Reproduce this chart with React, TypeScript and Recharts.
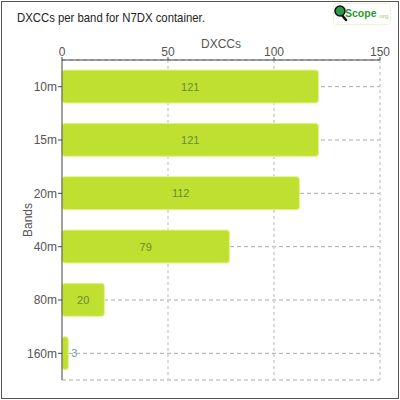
import { Bar, BarChart, CartesianGrid, LabelList, XAxis, YAxis } from "recharts";

const bands = ["10m", "15m", "20m", "40m", "80m", "160m"];
const dxccs = [121, 121, 112, 79, 20, 3];
const xTicks = [0, 50, 100, 150];

const data = bands.map((band, i) => ({ band, dxccs: dxccs[i] }));

const FONT = "'Liberation Sans', 'DejaVu Sans', sans-serif";

function BarValue(props: any) {
  const { x, y, width, height, value } = props;
  const inside = width > 20;
  return (
    <text
      x={inside ? x + width / 2 : x + width + 3}
      y={y + height / 2}
      dy={4}
      textAnchor={inside ? "middle" : "start"}
      fontSize={11}
      fontFamily={FONT}
      fill={inside ? "#6b8a35" : "#7a9aa5"}
    >
      {value}
    </text>
  );
}

function Logo() {
  return (
    <svg width={58} height={22} style={{ position: "absolute", left: 333, top: 3 }}>
      <rect x={0.5} y={0.5} width={57} height={21} rx={3} fill="#fff" stroke="#eef3d8" />
      <line x1={8} y1={11} x2={13} y2={17} stroke="#111" strokeWidth={2.5} strokeLinecap="round" />
      <circle cx={7} cy={8} r={5} fill="#2a9a4a" stroke="#111" strokeWidth={1.5} />
      <text x={12} y={14} fontSize={10.5} fontWeight="bold" fontFamily={FONT} fill="#2a9a2a">
        Scope
      </text>
      <text x={45} y={15} fontSize={6} fontFamily={FONT} fill="#9acd5a">
        .org
      </text>
    </svg>
  );
}

export default function App() {
  return (
    <div
      style={{
        position: "absolute",
        left: 0,
        top: 0,
        width: 400,
        height: 400,
        background: "#fff",
        fontFamily: FONT,
      }}
    >
      <div
        style={{
          position: "absolute",
          left: 1,
          top: 1,
          width: 396,
          height: 396,
          border: "1px solid #555",
        }}
      />
      <div
        style={{
          position: "absolute",
          left: 17,
          top: 10,
          fontSize: 13.5,
          lineHeight: "15px",
          color: "#222",
          whiteSpace: "nowrap",
          transform: "scaleX(0.84)",
          transformOrigin: "left top",
        }}
      >
        DXCCs per band for N7DX container.
      </div>
      <Logo />
      <BarChart
        width={400}
        height={400}
        data={data}
        layout="vertical"
        margin={{ top: 40, right: 20, bottom: 20, left: 20 }}
        barSize={33}
      >
        <CartesianGrid
          horizontal={(p: any) => (
            <line
              key={p.key}
              x1={p.x1}
              y1={p.y1}
              x2={p.x2}
              y2={p.y2}
              stroke="#aaa"
              strokeDasharray="4 3"
            />
          )}
          vertical={(p: any) =>
            p.x1 <= 63 ? null : (
              <line
                key={p.key}
                x1={p.x1}
                y1={p.y1}
                x2={p.x2}
                y2={p.y2}
                stroke="#d0d0d0"
                strokeWidth={1.5}
                strokeDasharray="3 3"
              />
            )
          }
        />
        <XAxis
          type="number"
          orientation="top"
          domain={[0, 150]}
          ticks={xTicks}
          height={20}
          tickSize={3}
          tickMargin={1}
          stroke="#444"
          tick={{ fill: "#555", fontSize: 12, fontFamily: FONT }}
          label={{
            value: "DXCCs",
            position: "insideTop",
            offset: -1,
            fill: "#555",
            fontSize: 12,
            fontFamily: FONT,
          }}
        />
        <YAxis
          type="category"
          dataKey="band"
          width={42}
          tickSize={4}
          tickMargin={1}
          stroke="#444"
          tick={{ fill: "#555", fontSize: 12, fontFamily: FONT }}
          label={{
            value: "Bands",
            angle: -90,
            position: "insideLeft",
            offset: 8,
            fill: "#555",
            fontSize: 12,
            fontFamily: FONT,
            style: { textAnchor: "middle" },
          }}
        />
        <Bar
          dataKey="dxccs"
          fill="#bfe030"
          stroke="#e4f58c"
          strokeWidth={1}
          radius={3}
          isAnimationActive={false}
        >
          <LabelList dataKey="dxccs" content={<BarValue />} />
        </Bar>
      </BarChart>
    </div>
  );
}
